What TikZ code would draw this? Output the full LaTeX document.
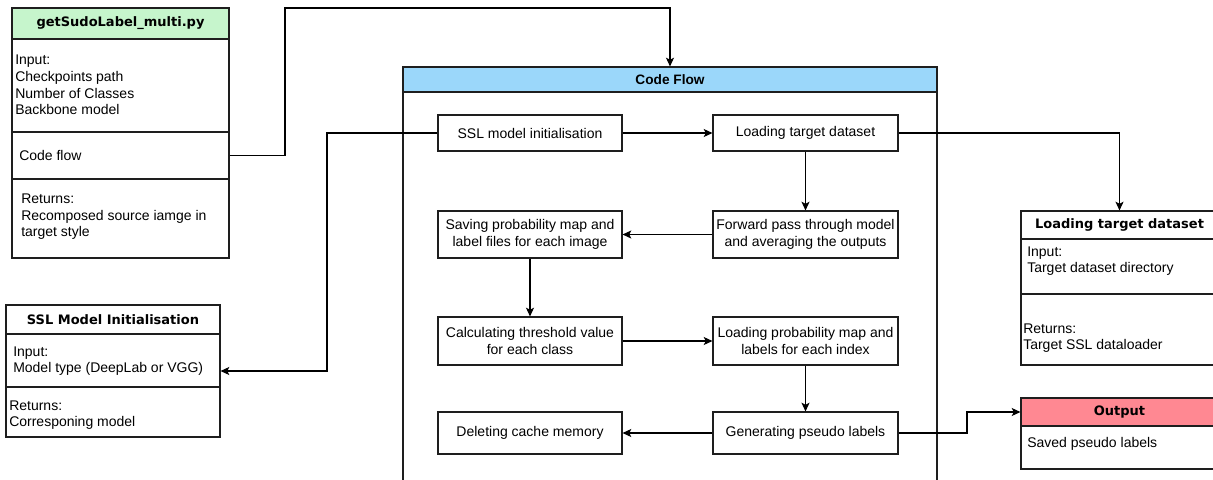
\documentclass[tikz,border=0pt]{standalone}
\usepackage{fontspec}
\setmainfont{Liberation Sans}
\newfontfamily\hdrfont{DejaVu Sans}
\usetikzlibrary{fit,arrows.meta,calc}
\definecolor{hgreen}{RGB}{198,245,204}
\definecolor{hblue}{RGB}{155,215,250}
\definecolor{hred}{RGB}{255,136,146}
\definecolor{edge}{RGB}{30,30,30}
\tikzset{
  x=0.75pt, y=-0.75pt,
  part/.style={draw=edge, line width=0.85pt, inner sep=0pt},
  hdrtxt/.style={inner sep=0pt, font=\hdrfont\bfseries\fontsize{9.75}{11.7}\selectfont},
  cftxt/.style={inner sep=0pt, font=\bfseries\fontsize{10.25}{12}\selectfont},
  steptxt/.style={inner sep=0pt, align=center, font=\fontsize{10.5}{12.4}\selectfont},
  body/.style={inner sep=0pt, anchor=west, align=left, font=\fontsize{10.5}{12.4}\selectfont},
  conn/.style={draw=black, line width=0.85pt, -{Stealth[length=6.5pt,width=6pt,inset=1.5pt]}},
}
\begin{document}
\begin{tikzpicture}
\useasboundingbox (0,0) rectangle (1213,479);
\clip (0,0) rectangle (1213,479);
\fill[white] (0,0) rectangle (1213,479);

% getSudoLabel_multi.py
\node[part, fit={(12,8)(229,258)}] (gs) {};
\node[part, fill=hgreen, fit={(12,8)(229,39)}] (gshdr) {};
\node[hdrtxt] (gshdrt) at (gshdr.center) {getSudoLabel\_multi.py};
\node[part, fit={(12,39)(229,132)}] (gsin) {};
\node[part, fit={(12,132)(229,179)}] (gscode) {};
\node[part, fit={(12,179)(229,258)}] (gsret) {};
\node[body] (gsint) at (15,85) {Input:\\Checkpoints path\\Number of Classes\\Backbone model};
\node[body] (gscodet) at (19,155) {Code flow};
\node[body] (gsrett) at (21,217) {Returns:\\Recomposed source iamge in\\target style};

% SSL Model Initialisation
\node[part, fit={(6,305)(220,437)}] (sslbox) {};
\node[part, fit={(6,305)(220,334)}] (sslhdr) {};
\node[hdrtxt] (sslhdrt) at (sslhdr.center) {SSL Model Initialisation};
\node[part, fit={(6,334)(220,387)}] (sslin) {};
\node[part, fit={(6,387)(220,437)}] (sslret) {};
\node[body] (sslint) at (13,361) {Input:\\Model type (DeepLab or VGG)};
\node[body] (sslrett) at (9,415) {Returns:\\Corresponing model};

% Loading target dataset (right)
\node[part, fit={(1021,211)(1218,365)}] (ltbox) {};
\node[part, fit={(1021,211)(1218,239)}] (lthdr) {};
\node[hdrtxt] (lthdrt) at (lthdr.center) {Loading target dataset};
\node[part, fit={(1021,239)(1218,294)}] (ltin) {};
\node[part, fit={(1021,294)(1218,365)}] (ltret) {};
\node[body] (ltint) at (1027,261) {Input:\\Target dataset directory};
\node[body] (ltrett) at (1023,338) {Returns:\\Target SSL dataloader};

% Output
\node[part, fit={(1021,398)(1218,469)}] (outbox) {};
\node[part, fill=hred, fit={(1021,398)(1218,426)}] (outhdr) {};
\node[hdrtxt] (outhdrt) at (outhdr.center) {Output};
\node[body] (outt) at (1027,444) {Saved pseudo labels};

% Code Flow container
\node[part, fit={(403,67)(937,500)}] (cf) {};
\node[part, fill=hblue, fit={(403,67)(937,92)}] (cfhdr) {};
\node[cftxt] (cfhdrt) at (cfhdr.center) {Code Flow};

% inner steps
\node[part, fit={(438,115)(622,151)}] (ssl) {};
\node[steptxt] at (ssl.center) {SSL model initialisation};
\node[part, fit={(713,115)(898,151)}] (lt) {};
\node[steptxt] at (lt.center) {Loading target dataset};
\node[part, fit={(438,211)(622,258)}] (save) {};
\node[steptxt] at (save.center) {Saving probability map and\\label files for each image};
\node[part, fit={(713,211)(898,258)}] (fwd) {};
\node[steptxt] at (fwd.center) {Forward pass through model\\and averaging the outputs};
\node[part, fit={(438,317)(622,365)}] (calc) {};
\node[steptxt] at (calc.center) {Calculating threshold value\\for each class};
\node[part, fit={(713,317)(898,365)}] (lprob) {};
\node[steptxt] at (lprob.center) {Loading probability map and\\labels for each index};
\node[part, fit={(438,412)(622,454)}] (del) {};
\node[steptxt] at (del.center) {Deleting cache memory};
\node[part, fit={(713,412)(898,454)}] (gen) {};
\node[steptxt] at (gen.center) {Generating pseudo labels};

% inner connectors
\draw[conn] (ssl.east) -- (lt.west);
\draw[conn] (lt.south) -- (fwd.north);
\draw[conn] (fwd.west) -- (save.east);
\draw[conn] (save.south) -- (calc.north);
\draw[conn] (calc.east) -- (lprob.west);
\draw[conn] (lprob.south) -- (gen.north);
\draw[conn] (gen.west) -- (del.east);

% outer connectors
\coordinate (k1) at (285,8);
\draw[conn] (gscode.east) -| (k1) -| (cfhdr.north);
\coordinate (k2) at (327,133);
\draw[conn] (ssl.west) -- (k2) |- ($(sslin.east)+(0,10.5)$);
\draw[conn] (lt.east) -| (ltbox.north);
\coordinate (k3) at (967,433);
\draw[conn] (gen.east) -- (k3) |- (outhdr.west);
\end{tikzpicture}
\end{document}
